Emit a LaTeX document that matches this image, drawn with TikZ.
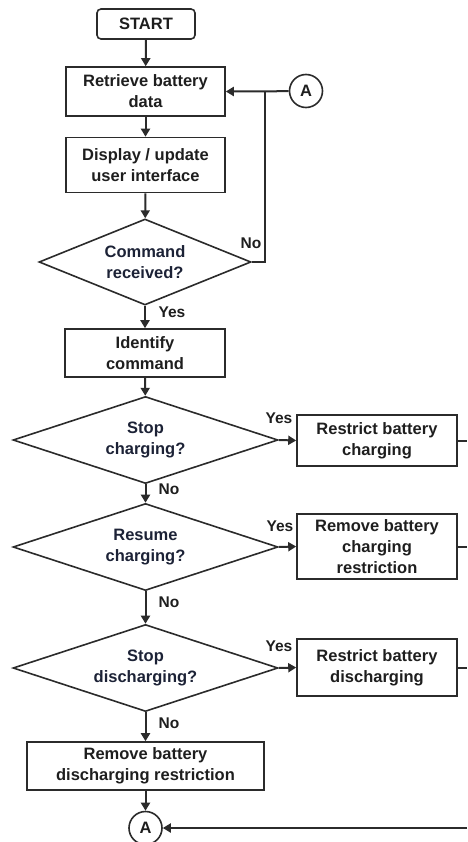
\documentclass[tikz,border=0pt]{standalone}
\usepackage{fontspec}
\setmainfont{Liberation Sans}
\usetikzlibrary{shapes.geometric,arrows.meta}
\definecolor{linec}{HTML}{2B2B2B}
\definecolor{boxtxt}{HTML}{1E1E1E}
\definecolor{dtxt}{HTML}{1C2236}
\tikzset{
  base/.style={draw=linec, line width=1.6pt, inner sep=0pt, align=center, font=\bfseries\fontsize{16.5}{21}\selectfont},
  procbox/.style={base, rectangle, text=boxtxt},
  decis/.style={base, diamond, aspect=3, text=dtxt},
  conn/.style={base, circle, minimum size=33pt, text=boxtxt},
  lbl/.style={font=\bfseries\fontsize{15.5}{17}\selectfont, text=boxtxt, inner sep=0pt},
  flow/.style={draw=linec, line width=2pt, -{Triangle[length=8pt,width=9pt]}},
  plain/.style={draw=linec, line width=2pt}
}
\begin{document}
\begin{tikzpicture}[x=1pt,y=-1pt]
\useasboundingbox (0,0) rectangle (467,842);
\node[procbox, rounded corners=4pt, minimum width=98pt, minimum height=30pt] (start) at (146,24) {START};
\node[procbox, minimum width=159pt, minimum height=49pt] (retr) at (145.5,91.5) {Retrieve battery\\data};
\node[procbox, minimum width=159pt, minimum height=55pt] (disp) at (145.5,165) {Display / update\\user interface};
\node[decis, minimum width=212pt, minimum height=86pt] (cmd) at (145,262) {Command\\received?};
\node[conn] (atop) at (306,91) {A};
\node[procbox, minimum width=160pt, minimum height=48pt] (ident) at (145,353) {Identify\\command};
\node[decis, minimum width=265pt, minimum height=87pt] (stopc) at (145.5,440) {Stop\\charging?};
\node[procbox, minimum width=160pt, minimum height=51pt] (rstc) at (377,440.5) {Restrict battery\\charging};
\node[decis, minimum width=265pt, minimum height=87pt] (resc) at (145.5,547) {Resume\\charging?};
\node[procbox, minimum width=160pt, minimum height=65pt] (remc) at (377,546.5) {Remove battery\\charging\\restriction};
\node[decis, minimum width=265pt, minimum height=87pt] (stopd) at (145.5,668) {Stop\\discharging?};
\node[procbox, minimum width=160pt, minimum height=57pt] (rstd) at (377,667.5) {Restrict battery\\discharging};
\node[procbox, minimum width=237pt, minimum height=48pt] (remd) at (145.5,766) {Remove battery\\discharging restriction};
\node[conn] (abot) at (145.5,828) {A};

\coordinate (loopc) at (265,262);
\coordinate (loopt) at (265,91.5);
\coordinate (e1) at (467,440.5);
\coordinate (e2) at (467,546.5);
\coordinate (e3) at (467,667.5);
\coordinate (e4) at (467,828);

\draw[flow] (start) -- (retr);
\draw[flow] (retr) -- (disp);
\draw[flow] (disp) -- (cmd);
\draw[flow] (cmd) -- (ident);
\draw[flow] (ident) -- (stopc);
\draw[flow] (stopc) -- (resc);
\draw[flow] (resc) -- (stopd);
\draw[flow] (stopd) -- (remd);
\draw[flow] (remd) -- (abot);
\draw[plain] (cmd.east) -- (loopc) -- (loopt);
\draw[flow] (atop.west) -- (loopt) -- (retr.east);
\draw[flow] (stopc.east) -- (rstc.west);
\draw[flow] (resc.east) -- (remc.west);
\draw[flow] (stopd.east) -- (rstd.west);
\draw[plain] (rstc.east) -- (e1);
\draw[plain] (remc.east) -- (e2);
\draw[plain] (rstd.east) -- (e3);
\draw[flow] (e4) -- (abot.east);

\node[lbl] (l1) at (251,243) {No};
\node[lbl] (l2) at (172,312) {Yes};
\node[lbl] (l3) at (279,418) {Yes};
\node[lbl] (l4) at (169,489) {No};
\node[lbl] (l5) at (280,526) {Yes};
\node[lbl] (l6) at (169,602) {No};
\node[lbl] (l7) at (279,646) {Yes};
\node[lbl] (l8) at (169,723) {No};
\end{tikzpicture}
\end{document}
